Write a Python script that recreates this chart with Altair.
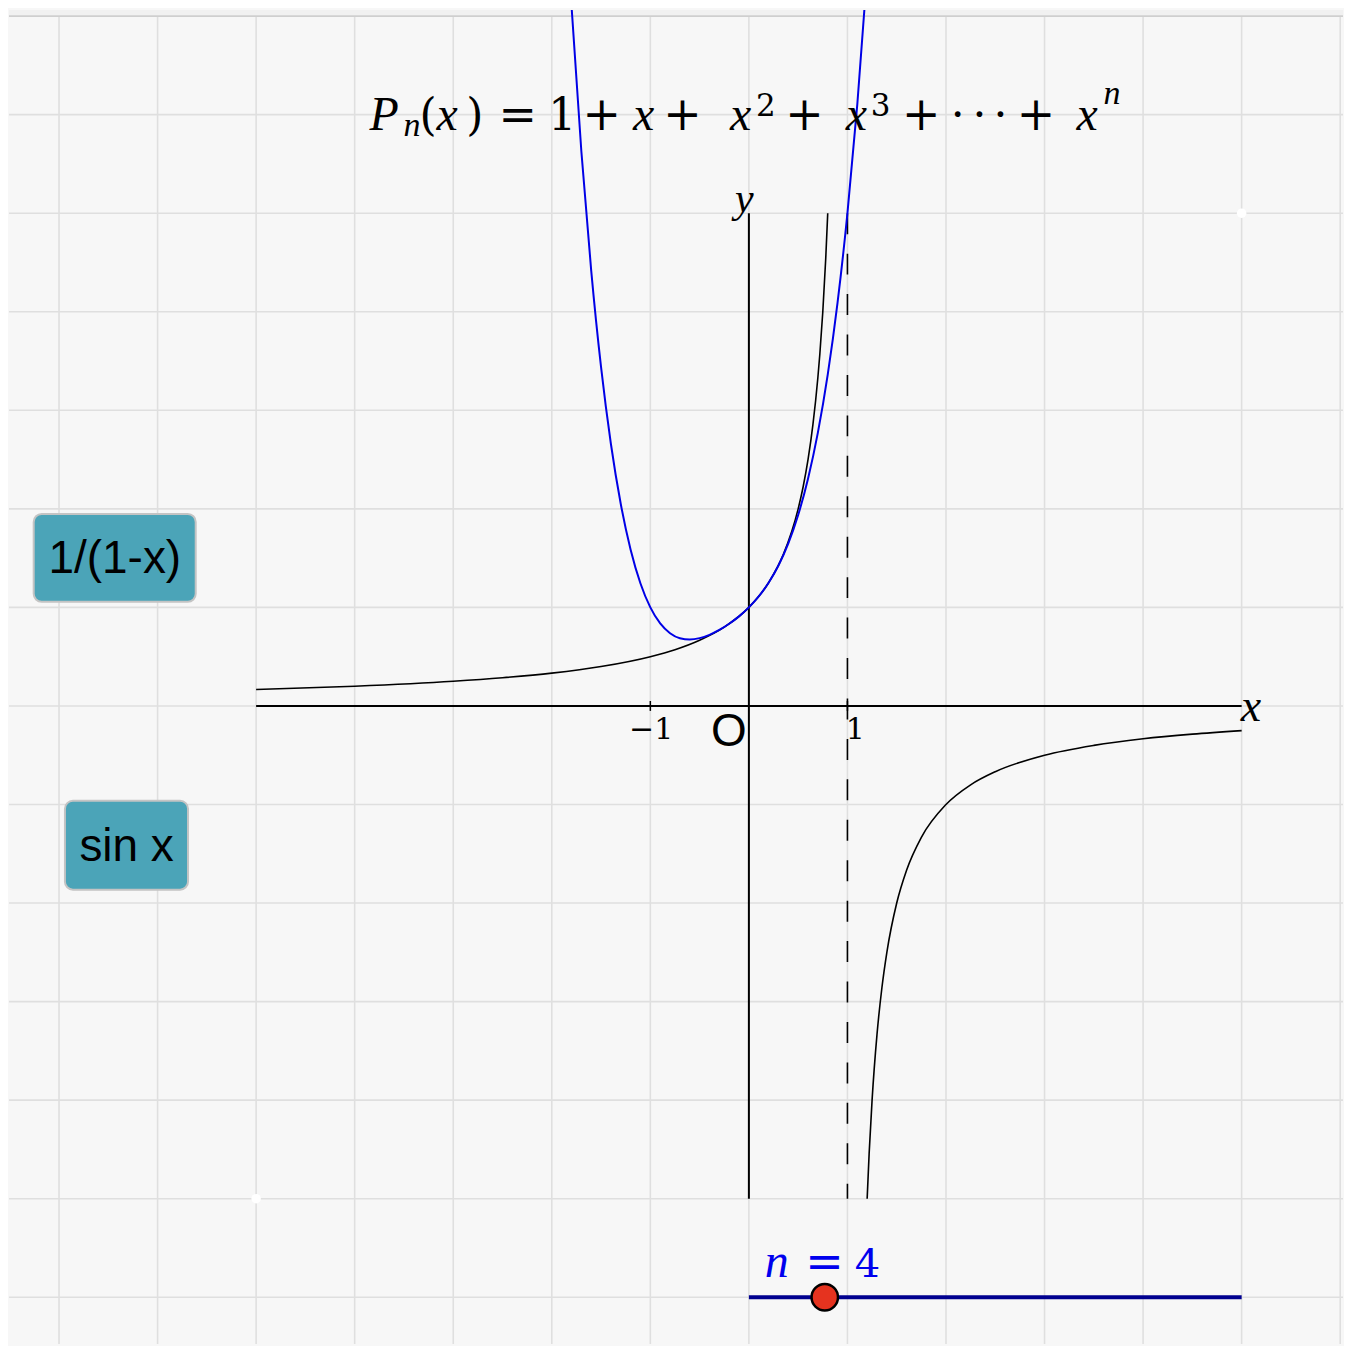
import altair as alt
import pandas as pd

# ---------------- data ----------------
# y = 1/(1-x), left branch (x < 1) and right branch (x > 1)
recip_left_x = [-5, -4, -3, -2.5, -2, -1.5, -1, -0.75, -0.5, -0.25, 0, 0.2, 0.35, 0.5,
                0.55, 0.6, 0.65, 0.7, 0.72, 0.75, 0.78, 0.8]
recip_left_y = [0.167, 0.2, 0.25, 0.286, 0.333, 0.4, 0.5, 0.571, 0.667, 0.8, 1.0, 1.25, 1.538, 2.0,
                2.222, 2.5, 2.857, 3.333, 3.571, 4.0, 4.545, 5.0]
recip_right_x = [1.2, 1.22, 1.25, 1.3, 1.35, 1.4, 1.5, 1.6, 1.75, 2.0, 2.25, 2.5, 3.0, 3.5, 4.0, 4.5, 5.0]
recip_right_y = [-5.0, -4.545, -4.0, -3.333, -2.857, -2.5, -2.0, -1.667, -1.333, -1.0, -0.8, -0.667,
                 -0.5, -0.4, -0.333, -0.286, -0.25]

# P_4(x) = 1 + x + x^2 + x^3 + x^4 (blue)
poly_x = [-1.8, -1.7, -1.6, -1.5, -1.4, -1.3, -1.2, -1.1, -1.0, -0.9, -0.8, -0.7, -0.6, -0.5, -0.4,
          -0.3, -0.2, -0.1, 0.0, 0.1, 0.2, 0.3, 0.4, 0.5, 0.6, 0.7, 0.8, 0.9, 1.0, 1.1, 1.2]
poly_y = [7.106, 5.629, 4.418, 3.438, 2.658, 2.049, 1.586, 1.243, 1.0, 0.837, 0.738, 0.687, 0.674,
          0.688, 0.722, 0.771, 0.834, 0.909, 1.0, 1.111, 1.25, 1.425, 1.65, 1.938, 2.306, 2.773,
          3.362, 4.095, 5.0, 6.105, 7.442]

grid_x = list(range(-7, 7))
grid_y = list(range(-6, 7))
axis_ticks = [-1, 1]
slider_value = 0.77          # handle position on the slider (n = 4)
slider_range = [0, 5]
corner_pts_x = [-5, 5]
corner_pts_y = [-5, 5]

# ---------------- view ----------------
X_MIN, X_MAX = -7.5076, 6.0284
Y_MIN, Y_MAX = -6.4742, 7.0618
W, H = 1336, 1336

xs = alt.Scale(domain=[X_MIN, X_MAX], nice=False, zero=False)
ys = alt.Scale(domain=[Y_MIN, Y_MAX], nice=False, zero=False)


def X(f="x"):
    return alt.X(f, type="quantitative", scale=xs, axis=None)


def Y(f="y"):
    return alt.Y(f, type="quantitative", scale=ys, axis=None)


def X2(f):
    return alt.X2(f)


def Y2(f):
    return alt.Y2(f)


GRID = "#dfdfdf"

grid_v = alt.Chart(pd.DataFrame({"x": grid_x})).mark_rule(color=GRID, strokeWidth=1.6).encode(x=X())
grid_h = alt.Chart(pd.DataFrame({"y": grid_y})).mark_rule(color=GRID, strokeWidth=1.6).encode(y=Y())

top_band = alt.Chart(pd.DataFrame({"y": [7], "y2": [Y_MAX]})).mark_rect(color="#f1f1f1").encode(
    x=alt.value(0), x2=alt.value(W), y=Y(), y2=Y2("y2"))
top_line = alt.Chart(pd.DataFrame({"y": [7]})).mark_rule(color="#cfcfcf", strokeWidth=1.6).encode(y=Y())

corners = alt.Chart(pd.DataFrame({"x": corner_pts_x, "y": corner_pts_y})).mark_circle(
    color="white", opacity=1, size=90).encode(x=X(), y=Y())

x_axis = alt.Chart(pd.DataFrame({"x": [-5], "x2": [5], "y": [0]})).mark_rule(
    color="black", strokeWidth=2).encode(x=X(), x2=X2("x2"), y=Y())
y_axis = alt.Chart(pd.DataFrame({"x": [0], "y": [-5], "y2": [5]})).mark_rule(
    color="black", strokeWidth=2).encode(x=X(), y=Y(), y2=Y2("y2"))
ticks = alt.Chart(pd.DataFrame({"x": axis_ticks, "y": [-0.05] * 2, "y2": [0.05] * 2})).mark_rule(
    color="black", strokeWidth=1.5).encode(x=X(), y=Y(), y2=Y2("y2"))
asym = alt.Chart(pd.DataFrame({"x": [1], "y": [5], "y2": [-5]})).mark_rule(
    color="black", strokeWidth=1.6, strokeDash=[21, 19.5]).encode(x=X(), y=Y(), y2=Y2("y2"))

recip_df = pd.DataFrame({
    "x": recip_left_x + recip_right_x,
    "y": recip_left_y + recip_right_y,
    "branch": ["L"] * len(recip_left_x) + ["R"] * len(recip_right_x),
    "ord": list(range(len(recip_left_x))) + list(range(len(recip_right_x))),
})
recip = alt.Chart(recip_df).mark_line(color="black", strokeWidth=1.6, clip=True,
                                      interpolate="monotone").encode(
    x=X(), y=Y(), detail="branch:N", order="ord:Q")

poly_df = pd.DataFrame({"x": poly_x, "y": poly_y, "ord": list(range(len(poly_x)))})
poly = alt.Chart(poly_df).mark_line(color="#0000e6", strokeWidth=2, clip=True,
                                    interpolate="monotone").encode(x=X(), y=Y(), order="ord:Q")

# ---------------- text ----------------
BLUE = "#0000ee"
it_rows = [  # text, x, y, size, color
    ("P", -3.850, 5.841, 48, "black"),
    ("n", -3.505, 5.785, 34, "black"),
    ("x", -3.171, 5.841, 48, "black"),
    ("x", -1.175, 5.841, 48, "black"),
    ("x", -0.192, 5.841, 48, "black"),
    ("x", 0.983, 5.841, 48, "black"),
    ("x", 3.323, 5.841, 48, "black"),
    ("n", 3.597, 6.109, 34, "black"),
    ("y", -0.142, 5.015, 42, "black"),
    ("x", 4.990, -0.152, 46, "black"),
    ("n", 0.162, -5.795, 48, BLUE),
]
up_rows = [
    ("(", -3.343, 5.841, 44, "black"),
    (")", -2.867, 5.841, 44, "black"),
    ("=", -2.540, 5.841, 46, "black"),
    ("1", -2.036, 5.841, 44, "black"),
    ("+", -1.688, 5.841, 46, "black"),
    ("+", -0.868, 5.841, 46, "black"),
    ("2", 0.071, 5.990, 31, "black"),
    ("+", 0.368, 5.841, 46, "black"),
    ("3", 1.236, 5.990, 31, "black"),
    ("+", 1.554, 5.841, 46, "black"),
    ("·", 2.047, 5.841, 44, "black"),
    ("·", 2.270, 5.841, 44, "black"),
    ("·", 2.482, 5.841, 44, "black"),
    ("+", 2.719, 5.841, 46, "black"),
    ("−1", -1.216, -0.334, 30, "black"),
    ("1", 0.983, -0.334, 30, "black"),
    ("=", 0.571, -5.795, 46, BLUE),
    ("4", 1.074, -5.795, 40, BLUE),
]
cols = ["t", "x", "y", "s", "c"]
it_df = pd.DataFrame(it_rows, columns=cols)
up_df = pd.DataFrame(up_rows, columns=cols)


def text_layer(df, **kw):
    return alt.Chart(df).mark_text(baseline="alphabetic", **kw).encode(
        x=X(), y=Y(), text="t:N",
        size=alt.Size("s:Q", scale=None),
        color=alt.Color("c:N", scale=None))


it_text = text_layer(it_df, font="Liberation Serif", fontStyle="italic", align="left")
up_text = text_layer(up_df, font="DejaVu Serif", align="left")
origin = text_layer(pd.DataFrame([("O", -0.385, -0.405, 46, "black")], columns=cols),
                    font="Liberation Sans", align="left")

# ---------------- buttons ----------------
btn_df = pd.DataFrame({
    "label": ["1/(1-x)", "sin x"],
    "x": [-7.257, -6.940], "x2": [-5.613, -5.691],
    "y": [1.948, -0.962], "y2": [1.057, -1.864],
    "tx": [-6.434, -6.314], "ty": [1.351, -1.570],
})
btn_box = alt.Chart(btn_df).mark_rect(fill="#4ba4b8", stroke="#c4c4c4", strokeWidth=2,
                                      cornerRadius=8).encode(
    x=X(), x2=X2("x2"), y=Y(), y2=Y2("y2"))
btn_text = alt.Chart(btn_df).mark_text(font="Liberation Sans", fontSize=46, color="black",
                                       align="center", baseline="alphabetic").encode(
    x=X("tx"), y=Y("ty"), text="label:N")

# ---------------- slider ----------------
slider_line = alt.Chart(pd.DataFrame({"x": [slider_range[0]], "x2": [slider_range[1]], "y": [-6]})).mark_rule(
    color="#00008f", strokeWidth=4).encode(x=X(), x2=X2("x2"), y=Y())
slider_pt = alt.Chart(pd.DataFrame({"x": [slider_value], "y": [-6]})).mark_point(
    filled=True, fill="#e5331f", stroke="black", strokeWidth=2.5, size=700, opacity=1,
    shape="circle").encode(x=X(), y=Y())

chart = alt.layer(
    grid_v, grid_h, top_band, top_line, corners,
    x_axis, y_axis, ticks, asym, recip, poly,
    it_text, up_text, origin, btn_box, btn_text, slider_line, slider_pt,
).properties(width=W, height=H, padding=0, background="#f7f7f7").configure_view(strokeWidth=0)

chart.save("out.html", embed_options={"renderer": "svg", "actions": False})
